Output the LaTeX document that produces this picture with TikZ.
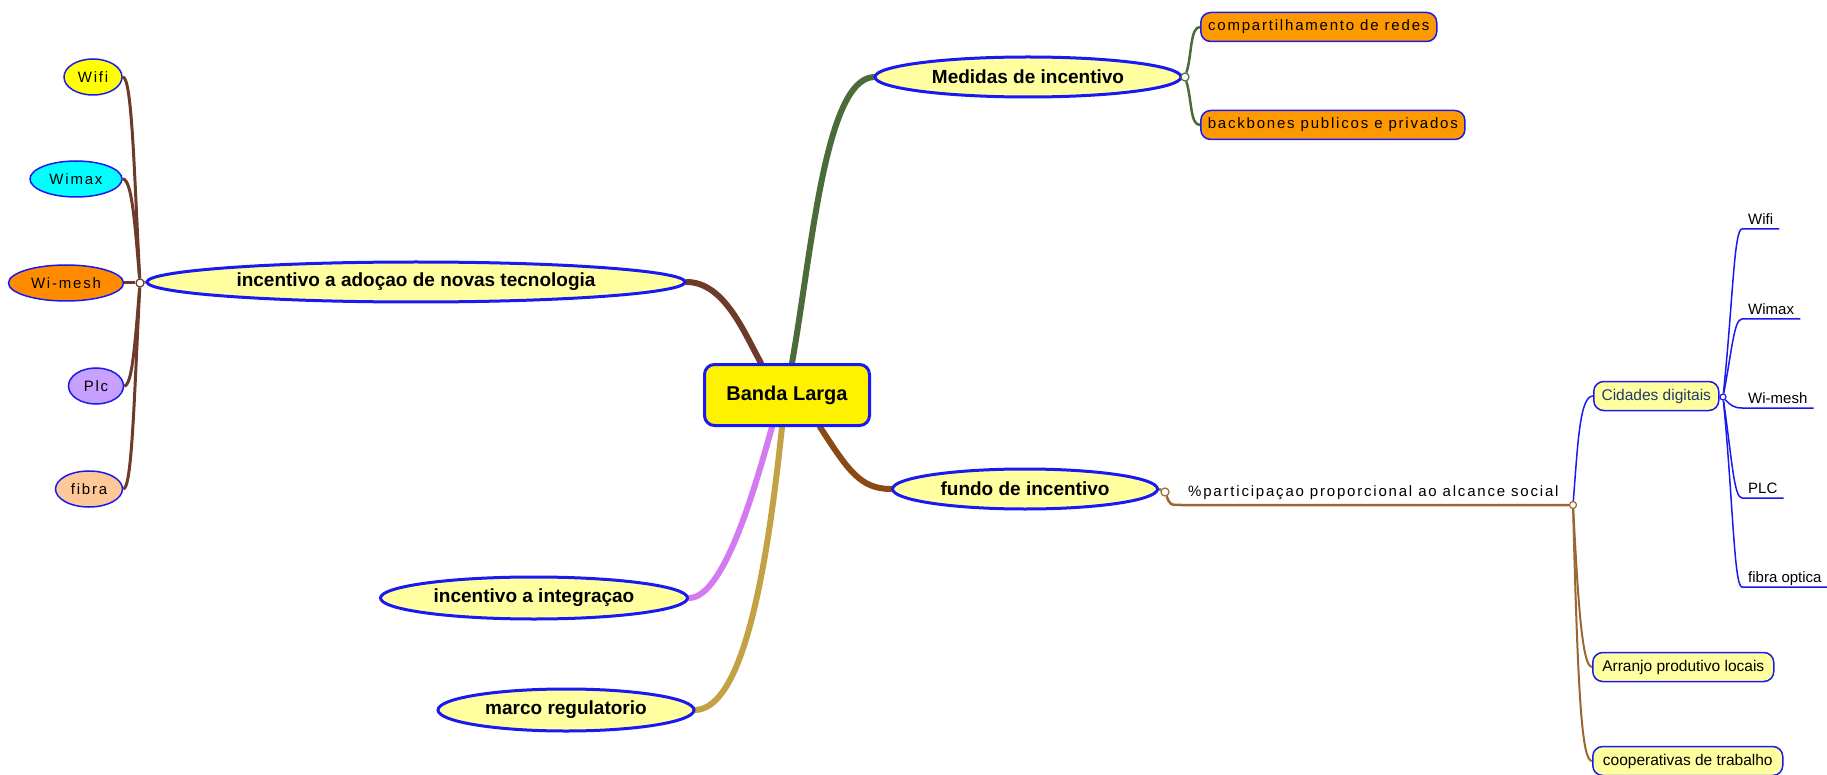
\documentclass[tikz,border=0pt]{standalone}
\usepackage{fontspec}
\setmainfont{Liberation Sans}
\newfontfamily\spfont[LetterSpace=12]{Liberation Sans}
\usetikzlibrary{shapes.geometric,backgrounds}
\definecolor{nblue}{HTML}{1A1AF0}
\definecolor{lyel}{HTML}{FFFFA0}
\definecolor{cAdo}{HTML}{6E3A2A}
\definecolor{cMed}{HTML}{4B6B3B}
\definecolor{cFun}{HTML}{8B4A14}
\definecolor{cFunSub}{HTML}{9C6632}
\definecolor{cInt}{HTML}{D47AF0}
\definecolor{cMar}{HTML}{C2A245}
\definecolor{cCid}{HTML}{1E3A6E}
\definecolor{orangeBox}{HTML}{FF9900}
\definecolor{cWifi}{HTML}{FFFF00}
\definecolor{cWimax}{HTML}{00FFFF}
\definecolor{cMesh}{HTML}{FF8C00}
\definecolor{cPlc}{HTML}{C8A0FF}
\definecolor{cFibra}{HTML}{FFC898}
\tikzset{
  central/.style={draw=nblue, line width=3pt, fill=yellow, rounded corners=10pt, minimum width=165pt, minimum height=61pt, font=\bfseries\fontsize{20}{24}\selectfont},
  mainell/.style={ellipse, draw=nblue, line width=3pt, fill=lyel, inner sep=0pt, minimum height=40pt, font=\bfseries\fontsize{19}{22}\selectfont},
  leafell/.style={ellipse, draw=nblue, line width=1.5pt, inner sep=0pt, minimum height=36pt, font=\spfont\fontsize{15}{18}\selectfont},
  orbox/.style={draw=nblue, line width=1.5pt, fill=orangeBox, rounded corners=10pt, minimum height=29pt, inner xsep=7pt, anchor=west, font=\spfont\fontsize{15}{18}\selectfont},
  ybox/.style={draw=nblue, line width=1.5pt, fill=lyel, rounded corners=10pt, minimum height=29pt, inner xsep=7pt, anchor=west, font=\fontsize{15.5}{18}\selectfont},
  subtxt/.style={anchor=south west, inner xsep=6pt, inner ysep=4pt, text depth=0pt, font=\fontsize{15}{18}\selectfont},
  junc/.style={circle, fill=white, draw=#1, line width=1.2pt, inner sep=0pt, minimum size=8pt},
  mainbr/.style={draw=#1, line width=6pt, line cap=round},
  leafbr/.style={draw=#1, line width=3pt},
  thinbr/.style={draw=#1, line width=2pt},
}
\begin{document}
\begin{tikzpicture}[x=1pt,y=-1pt]
\useasboundingbox (0,0) rectangle (1827,775);
% central
\node[central] (banda) at (787,395) {Banda Larga};
% main ellipses
\node[mainell, minimum width=538pt] (adocao) at (416,282) {incentivo a adoçao de novas tecnologia};
\node[mainell, minimum width=306pt] (medidas) at (1028,77) {Medidas de incentivo};
\node[mainell, minimum width=265pt] (fundo) at (1025,489) {fundo de incentivo};
\node[mainell, minimum width=307pt, minimum height=42pt] (integ) at (534,598) {incentivo a integraçao};
\node[mainell, minimum width=256pt, minimum height=42pt] (marco) at (566,710) {marco regulatorio};
% left leaves
\node[leafell, fill=cWifi, minimum width=58pt] (lwifi) at (93,77) {Wifi};
\node[leafell, fill=cWimax, minimum width=92pt] (lwimax) at (76,179) {Wimax};
\node[leafell, fill=cMesh, minimum width=115pt] (lmesh) at (66,283) {Wi-mesh};
\node[leafell, fill=cPlc, minimum width=55pt] (lplc) at (96,386) {Plc};
\node[leafell, fill=cFibra, minimum width=67pt] (lfibra) at (89,489) {fibra};
\node[junc=cAdo] (jl) at (140,283) {};
% medidas children
\node[junc=cMed] (jm) at (1185,77) {};
\node[orbox, minimum width=236pt] (comp) at (1200,27) {compartilhamento de redes};
\node[orbox, minimum width=260pt] (back) at (1200,125) {backbones publicos e privados};
% fundo children
\node[junc=cFunSub] (jf) at (1165,492) {};
\node[anchor=base west, inner sep=0pt, font=\spfont\fontsize{15}{18}\selectfont] (pct) at (1188,496) {\%participaçao proporcional ao alcance social};
\node[junc=cFunSub, minimum size=7pt] (jc) at (1573,505) {};
\node[ybox, text=cCid, minimum width=125pt] (cid) at (1593,396) {Cidades digitais};
\node[junc=nblue, minimum size=6pt] (jcd) at (1723,397) {};
\node[ybox, minimum width=181pt] (arr) at (1592,667) {Arranjo produtivo locais};
\node[ybox, minimum width=190pt] (coop) at (1592,761) {cooperativas de trabalho};
% cidades sub items
\node[subtxt] (rwifi) at (1742,229) {Wifi};
\node[subtxt] (rwimax) at (1742,319) {Wimax};
\node[subtxt] (rmesh) at (1742,408) {Wi-mesh};
\node[subtxt] (rplc) at (1742,498) {PLC};
\node[subtxt] (rfibra) at (1742,587) {fibra optica};

\begin{pgfonlayer}{background}
\fill[white] (0,0) rectangle (1827,775);
% main branches
\path[mainbr=cAdo] (adocao.east) .. controls (725,282) and (745,335) .. ([xshift=-26pt]banda.north);
\path[mainbr=cMed] ([xshift=5pt]banda.north) .. controls (812,250) and (825,80) .. (medidas.west);
\path[mainbr=cFun] ([xshift=33pt]banda.south) .. controls (848,470) and (860,489) .. (fundo.west);
\path[mainbr=cInt] ([xshift=-15pt]banda.south) .. controls (757,480) and (725,598) .. (integ.east);
\path[mainbr=cMar] ([xshift=-5pt]banda.south) .. controls (768,560) and (745,708) .. (marco.east);
% left leaves
\path[leafbr=cAdo] (adocao.west) -- (jl);
\path[leafbr=cAdo] (jl) .. controls (134,170) and (132,77) .. (lwifi.east);
\path[leafbr=cAdo] (jl) .. controls (135,225) and (132,179) .. (lwimax.east);
\path[leafbr=cAdo] (jl) -- (lmesh.east);
\path[leafbr=cAdo] (jl) .. controls (135,345) and (132,386) .. (lplc.east);
\path[leafbr=cAdo] (jl) .. controls (134,400) and (132,489) .. (lfibra.east);
% medidas
\path[leafbr=cMed, line width=2.5pt] (medidas.east) -- (jm);
\path[leafbr=cMed, line width=2.5pt] (jm) .. controls (1192,55) and (1190,27) .. (comp.west);
\path[leafbr=cMed, line width=2.5pt] (jm) .. controls (1192,100) and (1190,125) .. (back.west);
% fundo
\path[thinbr=cFunSub, line width=2.5pt] (fundo.east) -- (jf);
\path[thinbr=cFunSub, line width=2.5pt] (jf) .. controls (1170,505) .. (1182,505) -- (jc);
\path[thinbr=cFunSub] (jc) .. controls (1578,600) and (1582,667) .. (arr.west);
\path[thinbr=cFunSub] (jc) .. controls (1578,700) and (1582,761) .. (coop.west);
\path[draw=nblue, line width=1.5pt] (jc) .. controls (1578,440) and (1580,396) .. (cid.west);
\path[draw=nblue, line width=1.5pt] (cid.east) -- (jcd);
% cidades sub
\path[draw=nblue, line width=1.5pt] (jcd) .. controls (1733,300) and (1734,229) .. (rwifi.south west) -- (rwifi.south east);
\path[draw=nblue, line width=1.5pt] (jcd) .. controls (1732,350) and (1734,319) .. (rwimax.south west) -- (rwimax.south east);
\path[draw=nblue, line width=1.5pt] (jcd) .. controls (1730,405) and (1734,408) .. (rmesh.south west) -- (rmesh.south east);
\path[draw=nblue, line width=1.5pt] (jcd) .. controls (1732,460) and (1734,498) .. (rplc.south west) -- (rplc.south east);
\path[draw=nblue, line width=1.5pt] (jcd) .. controls (1733,500) and (1734,587) .. (rfibra.south west) -- (rfibra.south east);
\end{pgfonlayer}
\end{tikzpicture}
\end{document}
